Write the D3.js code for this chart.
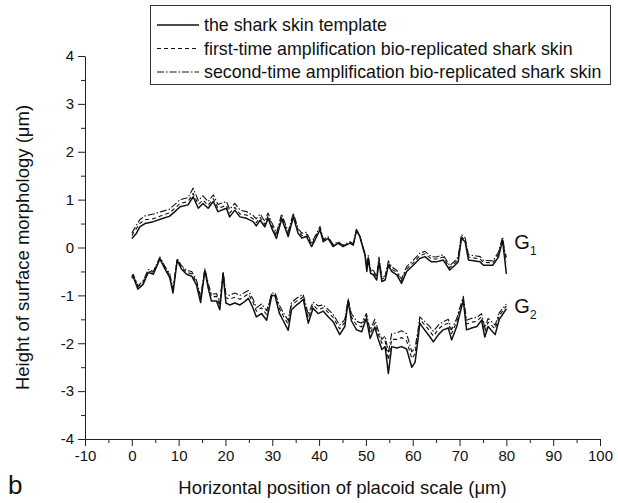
<!DOCTYPE html>
<html>
<head>
<meta charset="utf-8">
<script src="https://cdn.jsdelivr.net/npm/d3@7"></script>
<style>
body { margin: 0; background: #fff; }
svg text { font-family: "Liberation Sans", Arial, sans-serif; fill: #111; }
</style>
</head>
<body>
<div id="chart"></div>
<script>
// x positions (um) and heights (um)
var g1X = [0, 1.0, 1.7, 2.8, 4.6, 6.7, 8.0, 9.2, 10.3, 12.0, 13.1, 14.2, 15.2, 16.3, 17.4, 18.4, 20.2, 20.9, 22.0, 23.1,
           24.5, 25.9, 26.6, 27.4, 28.4, 29.1, 29.9, 30.9, 32.0, 33.4, 34.5, 35.5, 36.3, 37.3, 38.4, 39.5, 40.2, 40.9, 41.9, 43.0,
           44.1, 45.1, 46.6, 47.3, 48.0, 48.7, 49.8, 50.2, 50.5, 51.0, 51.6, 52.3, 52.8, 53.4, 54.1, 54.8, 55.5, 56.6, 57.6, 58.7,
           60.1, 61.5, 62.6, 64.0, 65.1, 66.5, 67.9, 69.0, 69.7, 70.4, 71.2, 71.9, 74.4, 75.1, 77.1, 78.3, 79.2, 79.6, 80.0];
var g1Template = [0.19, 0.3, 0.43, 0.5, 0.54, 0.61, 0.65, 0.75, 0.85, 0.89, 1.06, 0.82, 0.92, 0.82, 0.96, 0.75, 0.82, 0.64, 0.78, 0.64,
           0.61, 0.54, 0.45, 0.57, 0.43, 0.61, 0.4, 0.19, 0.6, 0.23, 0.64, 0.3, 0.2, 0.23, 0.02, 0.23, 0.37, 0.12, 0.19, 0.02,
           0.09, 0.02, 0.09, 0.05, 0.37, 0.23, -0.16, -0.5, -0.23, -0.54, -0.57, -0.68, -0.3, -0.71, -0.68, -0.37, -0.5, -0.57, -0.75, -0.5,
           -0.37, -0.23, -0.19, -0.3, -0.3, -0.26, -0.47, -0.37, -0.3, 0.19, 0.12, -0.26, -0.3, -0.37, -0.37, -0.2, 0.15, -0.2, -0.55];
var g1First = [0.25, 0.4, 0.5, 0.58, 0.6, 0.68, 0.72, 0.82, 0.92, 0.96, 1.13, 0.9, 0.99, 0.88, 1.02, 0.82, 0.88, 0.72, 0.84, 0.7,
           0.68, 0.6, 0.52, 0.63, 0.48, 0.66, 0.46, 0.24, 0.65, 0.28, 0.68, 0.35, 0.25, 0.28, 0.06, 0.27, 0.4, 0.15, 0.21, 0.04,
           0.1, 0.03, 0.1, 0.06, 0.36, 0.22, -0.14, -0.46, -0.2, -0.5, -0.52, -0.63, -0.25, -0.66, -0.63, -0.32, -0.45, -0.52, -0.7, -0.45,
           -0.32, -0.17, -0.13, -0.24, -0.24, -0.2, -0.42, -0.32, -0.25, 0.22, 0.16, -0.2, -0.24, -0.31, -0.32, -0.15, 0.18, -0.1, -0.3];
var g1Second = [0.3, 0.47, 0.58, 0.66, 0.7, 0.76, 0.8, 0.9, 1.0, 1.04, 1.24, 0.98, 1.08, 0.96, 1.1, 0.9, 0.96, 0.8, 0.92, 0.78,
           0.75, 0.67, 0.6, 0.7, 0.55, 0.72, 0.52, 0.3, 0.7, 0.33, 0.72, 0.4, 0.3, 0.32, 0.1, 0.3, 0.44, 0.17, 0.23, 0.06,
           0.12, 0.05, 0.12, 0.08, 0.38, 0.24, -0.12, -0.43, -0.17, -0.47, -0.48, -0.6, -0.2, -0.62, -0.6, -0.28, -0.4, -0.48, -0.66, -0.4,
           -0.27, -0.12, -0.08, -0.19, -0.2, -0.15, -0.38, -0.28, -0.2, 0.27, 0.2, -0.15, -0.19, -0.27, -0.28, -0.1, 0.22, -0.05, -0.2];

var g2X = [0, 0.3, 1.3, 2.4, 3.5, 4.6, 6.0, 7.1, 8.1, 8.8, 9.7, 10.6, 11.7, 12.8, 13.8, 14.7, 15.6, 16.3, 17.0, 18.1,
           18.8, 19.5, 20.1, 20.9, 22.0, 23.1, 24.1, 24.9, 25.9, 26.6, 27.7, 28.8, 29.9, 30.6, 31.5, 32.3, 33.4, 34.1, 35.2, 35.9,
           36.6, 37.7, 38.7, 39.8, 40.9, 42.0, 43.0, 44.4, 45.5, 46.2, 46.9, 48.0, 49.1, 50.1, 50.9, 51.9, 52.6, 53.4, 54.1, 54.8,
           55.5, 56.6, 57.6, 58.7, 59.8, 60.5, 61.2, 61.5, 62.6, 63.7, 64.4, 65.5, 66.5, 67.6, 68.3, 69.4, 70.1, 70.8, 71.5, 72.6,
           73.7, 74.7, 75.4, 76.1, 77.6, 78.5, 80.0];
var g2Template = [-0.64, -0.61, -0.87, -0.77, -0.52, -0.56, -0.24, -0.45, -0.63, -0.95, -0.27, -0.45, -0.56, -0.6, -0.78, -1.15, -0.48, -0.84, -1.12, -1.12,
           -1.3, -0.55, -1.16, -1.2, -1.16, -1.2, -1.13, -1.06, -1.27, -1.45, -1.38, -1.52, -1.0, -1.01, -1.37, -1.52, -1.73, -1.3, -1.2, -1.15,
           -1.08, -1.58, -1.27, -1.38, -1.33, -1.45, -1.55, -1.82, -1.65, -1.12, -1.53, -1.72, -1.76, -1.48, -1.9, -1.66, -1.9, -2.13, -2.07, -2.63,
           -2.07, -2.1, -2.07, -2.12, -2.5, -2.4, -1.86, -1.58, -1.73, -1.87, -1.97, -1.82, -1.72, -1.68, -1.93, -1.65, -1.37, -1.1, -1.72, -1.68,
           -1.65, -1.52, -1.87, -1.65, -1.82, -1.5, -1.28];
var g2First = [-0.62, -0.58, -0.82, -0.72, -0.49, -0.52, -0.22, -0.42, -0.58, -0.9, -0.25, -0.41, -0.52, -0.55, -0.72, -1.08, -0.46, -0.78, -1.03, -1.02,
           -1.22, -0.53, -1.05, -1.08, -1.04, -1.08, -1.02, -0.97, -1.15, -1.33, -1.26, -1.4, -0.97, -0.98, -1.27, -1.42, -1.6, -1.2, -1.12, -1.08,
           -1.03, -1.48, -1.2, -1.3, -1.26, -1.36, -1.46, -1.7, -1.56, -1.1, -1.45, -1.62, -1.66, -1.42, -1.8, -1.58, -1.8, -2.0, -1.95, -2.35,
           -1.92, -1.92, -1.88, -1.95, -2.32, -2.22, -1.75, -1.5, -1.62, -1.75, -1.85, -1.7, -1.62, -1.58, -1.8, -1.55, -1.3, -1.06, -1.6, -1.56,
           -1.54, -1.44, -1.76, -1.56, -1.7, -1.42, -1.22];
var g2Second = [-0.6, -0.56, -0.8, -0.7, -0.46, -0.5, -0.2, -0.4, -0.55, -0.86, -0.23, -0.38, -0.48, -0.5, -0.68, -1.03, -0.44, -0.74, -0.98, -0.96,
           -1.16, -0.5, -0.98, -1.0, -0.95, -1.0, -0.94, -0.9, -1.08, -1.26, -1.18, -1.32, -0.95, -0.95, -1.2, -1.35, -1.52, -1.15, -1.06, -1.02,
           -0.98, -1.4, -1.14, -1.22, -1.2, -1.3, -1.4, -1.62, -1.5, -1.07, -1.38, -1.54, -1.58, -1.38, -1.72, -1.5, -1.72, -1.92, -1.85, -2.2,
           -1.8, -1.78, -1.74, -1.8, -2.18, -2.1, -1.68, -1.45, -1.55, -1.66, -1.75, -1.62, -1.55, -1.5, -1.72, -1.48, -1.25, -1.02, -1.52, -1.48,
           -1.46, -1.38, -1.68, -1.48, -1.62, -1.36, -1.18];

var xTicks = [-10, 0, 10, 20, 30, 40, 50, 60, 70, 80, 90, 100];
var yTicks = [-4, -3, -2, -1, 0, 1, 2, 3, 4];
var legendLabels = ["the shark skin template",
                    "first-time amplification bio-replicated shark skin",
                    "second-time amplification bio-replicated shark skin"];

var W = 618, H = 503;
var FONT = "'Liberation Sans', Arial, sans-serif";
var dashes = [null, "4,3", "7,2,1.5,2"];
var widths = [1.5, 1.1, 1.1];

var x = d3.scaleLinear().domain([-10, 100]).range([85, 600]);
var y = d3.scaleLinear().domain([-4, 4]).range([439, 56]);

var svg = d3.select("#chart").append("svg")
    .attr("width", W)
    .attr("height", H)
    .attr("font-family", FONT);

// minor ticks
svg.append("g")
    .attr("transform", "translate(0," + y(-4) + ")")
    .call(d3.axisBottom(x).tickValues(d3.range(-5, 100, 10)).tickSize(4).tickFormat(""))
    .call(function(g) { g.select(".domain").remove(); });
svg.append("g")
    .attr("transform", "translate(" + x(-10) + ",0)")
    .call(d3.axisLeft(y).tickValues(d3.range(-3.5, 4, 1)).tickSize(4).tickFormat(""))
    .call(function(g) { g.select(".domain").remove(); });

// major axes, plain hyphen for negatives like the original
var fmt = function(d) { return String(d); };
var xAxis = svg.append("g")
    .attr("transform", "translate(0," + y(-4) + ")")
    .call(d3.axisBottom(x).tickValues(xTicks).tickFormat(fmt).tickSize(7).tickSizeOuter(0).tickPadding(4));
var yAxis = svg.append("g")
    .attr("transform", "translate(" + x(-10) + ",0)")
    .call(d3.axisLeft(y).tickValues(yTicks).tickFormat(fmt).tickSize(7).tickSizeOuter(0).tickPadding(4));

svg.selectAll("g").attr("font-family", FONT);
svg.selectAll(".tick line, .domain").attr("stroke", "#222").attr("stroke-width", 1);
xAxis.selectAll("text").attr("font-size", 15).attr("fill", "#111");
yAxis.selectAll("text").attr("font-size", 15).attr("fill", "#111");

// curves
var line = d3.line()
    .x(function(d) { return x(d[0]); })
    .y(function(d) { return y(d[1]); });

function series(xs, ys) {
    return xs.map(function(v, i) { return [v, ys[i]]; });
}

var curves = [
    [series(g1X, g1Second), 2], [series(g1X, g1First), 1], [series(g1X, g1Template), 0],
    [series(g2X, g2Second), 2], [series(g2X, g2First), 1], [series(g2X, g2Template), 0]
];

svg.append("g").selectAll("path")
    .data(curves)
    .enter()
    .append("path")
    .attr("d", function(d) { return line(d[0]); })
    .attr("fill", "none")
    .attr("stroke", "#111")
    .attr("stroke-width", function(d) { return widths[d[1]]; })
    .attr("stroke-dasharray", function(d) { return dashes[d[1]]; })
    .attr("stroke-linejoin", "round");

// G labels
var gl = [["1", 0.1], ["2", -1.25]];
gl.forEach(function(d) {
    var t = svg.append("text")
        .attr("x", x(80) + 8)
        .attr("y", y(d[1]) + 6)
        .attr("font-size", 20);
    t.append("tspan").text("G");
    t.append("tspan").attr("font-size", 12).attr("dy", 6).text(d[0]);
});

// legend
var lg = svg.append("g");
lg.append("rect")
    .attr("x", 150.5).attr("y", 5.5)
    .attr("width", 460).attr("height", 79)
    .attr("fill", "#fff").attr("stroke", "#333").attr("stroke-width", 1);
var rows = lg.selectAll(".row")
    .data(legendLabels)
    .enter()
    .append("g")
    .attr("transform", function(d, i) { return "translate(0," + (25 + i * 23.5) + ")"; });
rows.append("line")
    .attr("x1", 157).attr("x2", 199)
    .attr("stroke", "#111")
    .attr("stroke-width", function(d, i) { return widths[i]; })
    .attr("stroke-dasharray", function(d, i) { return dashes[i]; });
rows.append("text")
    .attr("x", 204).attr("dy", "0.35em")
    .attr("font-size", 17.8)
    .text(function(d) { return d; });

// axis titles
svg.append("text")
    .attr("transform", "translate(29," + y(0) + ") rotate(-90)")
    .attr("text-anchor", "middle")
    .attr("font-size", 18.5)
    .text("Height of surface morphology (\u03bcm)");
svg.append("text")
    .attr("x", x(45)).attr("y", 494)
    .attr("text-anchor", "middle")
    .attr("font-size", 18.5)
    .text("Horizontal position of placoid scale (\u03bcm)");
svg.append("text")
    .attr("x", 8).attr("y", 494)
    .attr("font-size", 26)
    .text("b");
</script>
</body>
</html>
